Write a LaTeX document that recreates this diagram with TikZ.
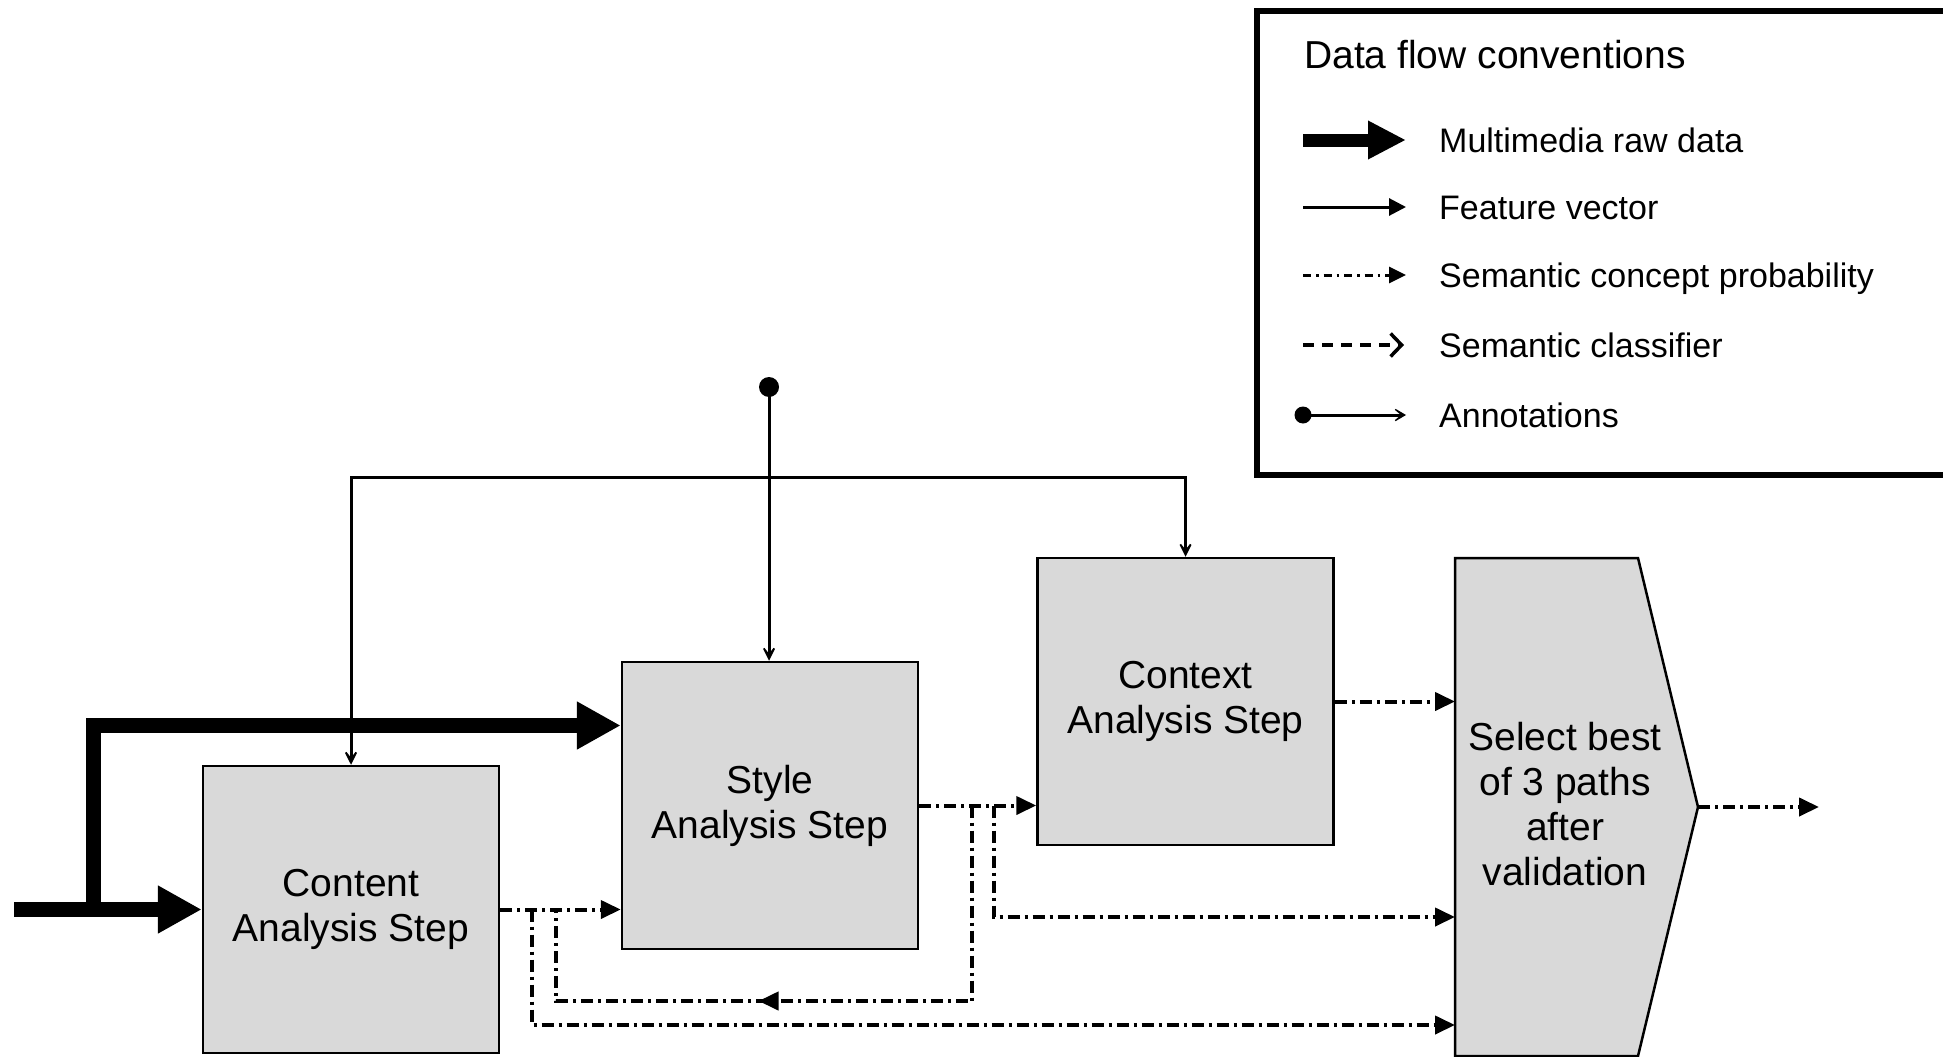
\documentclass[tikz,border=0pt]{standalone}
\usepackage{fontspec}
\setmainfont{Liberation Sans}
\usetikzlibrary{arrows.meta,decorations.markings}
\definecolor{boxgray}{RGB}{217,217,217}
\newcommand{\boxfont}{\fontsize{39pt}{45pt}\selectfont}
\newcommand{\legfont}{\fontsize{34pt}{40pt}\selectfont}
\begin{document}
\begin{tikzpicture}[x=1pt,y=-1pt,
  stepbox/.style={draw, line width=2.5pt, fill=boxgray, minimum width=296pt, minimum height=287pt, align=center, inner sep=0pt, font=\boxfont},
  seltext/.style={align=center, inner sep=0pt, font=\boxfont},
  raw/.style={line width=15pt, -{Triangle[length=44pt,width=45pt]}},
  rawleg/.style={line width=13pt, -{Triangle[length=38pt,width=36pt]}},
  sdashline/.style={line width=4pt, dash pattern=on 12pt off 5pt on 3pt off 5pt},
  sdash/.style={sdashline, -{Triangle[length=20pt,width=18pt]}},
  annot/.style={line width=3pt, -{Stealth[length=20pt,width=20pt,inset=13pt]}},
  legtxt/.style={anchor=base west, inner sep=0pt, font=\legfont},
  dotnode/.style={circle, fill=black, inner sep=0pt, minimum size=#1},
  legendbox/.style={draw, line width=6pt, anchor=north west, minimum width=720pt, minimum height=464pt, inner sep=0pt}
]
\useasboundingbox (0,0) rectangle (1943,1057);

% ---------- legend ----------
\node[legendbox] (legend) at (1254,8) {};
\node[anchor=base west, inner sep=0pt, font=\boxfont] (ltitle) at (1304,69) {Data flow conventions};

\coordinate (l1a) at (1303,140); \coordinate (l1b) at (1406,140);
\coordinate (l2a) at (1303,207); \coordinate (l2b) at (1406,207);
\coordinate (l3a) at (1303,275); \coordinate (l3b) at (1406,275);
\coordinate (l4a) at (1303,345); \coordinate (l4b) at (1404,345);
\coordinate (l5b) at (1406,415);
\node[dotnode=17pt] (l5a) at (1303,415) {};

\draw[rawleg] (l1a) -- (l1b);
\draw[line width=3pt, -{Triangle[length=17pt,width=17pt]}] (l2a) -- (l2b);
\draw[line width=3pt, dash pattern=on 8pt off 5pt on 2.5pt off 5pt, -{Triangle[length=17pt,width=16pt]}] (l3a) -- (l3b);
\draw[line width=4pt, dash pattern=on 11pt off 8pt, -{Straight Barb[length=11pt,width=23pt,line width=3.5pt]}] (l4a) -- (l4b);
\draw[line width=3pt, -{Stealth[length=17pt,width=20pt,inset=12pt]}] (l5a.center) -- (l5b);

\node[legtxt] (t1) at (1439,152) {Multimedia raw data};
\node[legtxt] (t2) at (1439,219) {Feature vector};
\node[legtxt] (t3) at (1439,287) {Semantic concept probability};
\node[legtxt] (t4) at (1439,357) {Semantic classifier};
\node[legtxt] (t5) at (1439,427) {Annotations};

% ---------- processing boxes ----------
\node[stepbox] (cnt) at (351,909.5) {Content\\Analysis Step};
\node[stepbox] (sty) at (770,805.5) {Style\\Analysis Step};
\node[stepbox] (ctx) at (1185.5,701.5) {Context\\Analysis Step};

% select shape
\coordinate (selNW) at (1455,558);
\coordinate (selNE) at (1638,558);
\coordinate (selTip) at (1698,807);
\coordinate (selSE) at (1638,1056);
\coordinate (selSW) at (1455,1056);
\filldraw[fill=boxgray, line width=2.5pt, line join=miter] (selNW) -- (selNE) -- (selTip) -- (selSE) -- (selSW) -- cycle;
\node[seltext] (sel) at (1565,804) {Select best\\of 3 paths\\after\\validation};

% ---------- raw data ----------
\coordinate (rawin) at (14,909.5);
\coordinate (rawbr) at (93.5,909.5);
\coordinate (rawtop) at (93.5,725.5);
\draw[raw] (rawin) -- (cnt.west);
\draw[raw] (rawbr) -- (rawtop) -- (sty.west |- rawtop);

% ---------- annotations ----------
\node[dotnode=20pt] (ann) at (769,387) {};
\coordinate (split) at (769,477);
\draw[annot] (ann.center) -- (ann |- sty.north);
\draw[annot] (split) -| (cnt.north);
\draw[annot] (split) -| (ctx.north);

% ---------- semantic concept probabilities ----------
\coordinate (j1) at (532,909.5);
\coordinate (j2) at (556,909.5);
\coordinate (j3) at (972,805.5);
\coordinate (j4) at (994,805.5);
\coordinate (fbL) at (0,1001);
\coordinate (in1) at (1455,701.5);
\coordinate (in2) at (1455,917);
\coordinate (in3) at (1455,1025);
\coordinate (out) at (1819,807);

\draw[sdash] (cnt.east) -- (sty.west |- cnt.east);
\draw[sdash] (j1) |- (in3);
\draw[sdashline, postaction={decorate}, decoration={markings, mark=at position 409pt with {\arrow{Triangle[length=20pt,width=18pt]}}}] (j3) |- (j2 |- fbL) -- (j2);
\draw[sdash] (sty.east) -- (ctx.west |- sty.east);
\draw[sdash] (j4) |- (in2);
\draw[sdash] (ctx.east) -- (in1);
\draw[sdash] (selTip) -- (out);
\end{tikzpicture}
\end{document}
